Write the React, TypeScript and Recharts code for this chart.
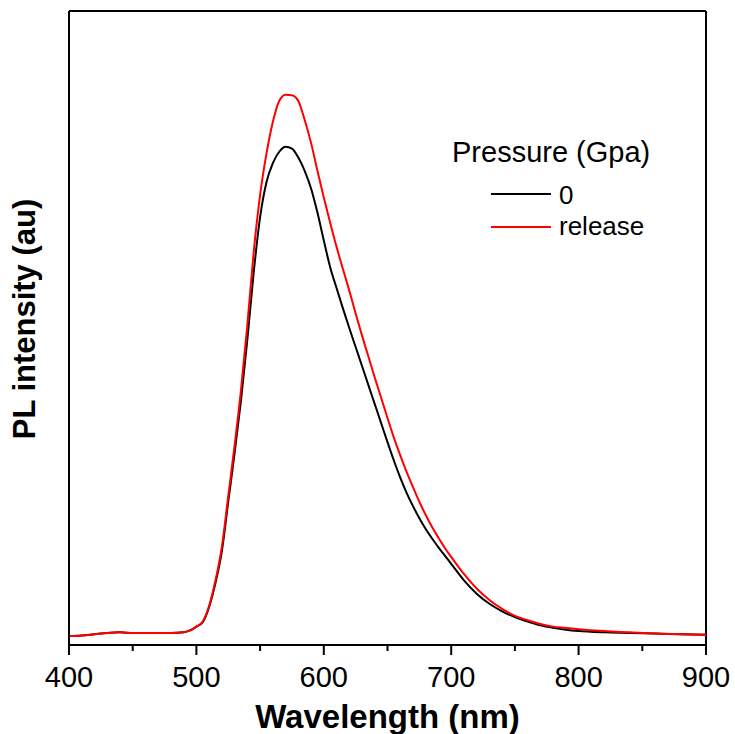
import React from 'react';
import { LineChart, Line, XAxis, YAxis, Legend, ReferenceLine } from 'recharts';

const wavelength = [
  400, 410, 420, 430, 440, 450, 460, 470, 480, 490, 495,
  500, 505, 510, 515, 520, 525, 530, 535, 540, 545, 550, 555, 560, 565, 570, 575,
  580, 585, 590, 595, 600, 605, 610, 615, 620, 625, 630, 635, 640, 645, 650, 655,
  660, 665, 670, 675, 680, 685, 690, 695, 700,
  710, 720, 730, 740, 750, 760, 770, 780, 790, 800, 820, 840, 860, 880, 900,
];

const gpa0 = [
  1.4, 1.5, 1.7, 1.9, 2.0, 1.9, 1.9, 1.9, 1.9, 2.0, 2.3,
  2.9, 3.6, 6.0, 9.8, 14.8, 22.6, 30.3, 38.6, 48.2, 58.8, 67.5, 73.0, 76.0, 77.8, 78.6, 78.3,
  76.9, 74.8, 72.0, 68.2, 63.8, 59.6, 56.3, 53.1, 50.0, 47.0, 44.0, 41.0, 38.0, 35.0, 32.0, 29.1,
  26.4, 24.0, 21.9, 20.0, 18.3, 16.8, 15.4, 14.1, 12.8,
  10.2, 8.1, 6.5, 5.3, 4.4, 3.7, 3.1, 2.7, 2.4, 2.2, 2.0, 1.9, 1.8, 1.7, 1.6,
];

const release = [
  1.4, 1.5, 1.7, 1.9, 2.0, 1.9, 1.9, 1.9, 1.9, 2.0, 2.3,
  2.9, 3.7, 6.2, 10.2, 15.5, 23.5, 31.5, 40.2, 50.5, 62.0, 71.0, 77.5, 82.5, 85.8, 86.8, 86.7,
  85.8, 82.8, 79.2, 74.8, 70.6, 66.6, 62.8, 59.3, 55.9, 52.3, 48.8, 45.5, 42.2, 39.0, 35.8, 32.7,
  29.9, 27.3, 24.9, 22.6, 20.5, 18.6, 16.9, 15.3, 13.9,
  11.2, 8.9, 7.1, 5.7, 4.6, 3.9, 3.3, 2.9, 2.7, 2.5, 2.2, 2.0, 1.8, 1.7, 1.6,
];

const xTicks = [400, 450, 500, 550, 600, 650, 700, 750, 800, 850, 900];

const series = [
  { key: 'gpa0', name: '0', color: '#000000' },
  { key: 'release', name: 'release', color: '#ff0000' },
];

const data = wavelength.map((w, i) => ({ w, gpa0: gpa0[i], release: release[i] }));

const FONT = '"Liberation Sans", Arial, sans-serif';

const XTick = (props: any) => {
  const { x, y, payload } = props;
  const major = payload.value % 100 === 0;
  return (
    <g>
      <line x1={x} x2={x} y1={y} y2={y + (major ? 10 : 6)} stroke="#000" strokeWidth={2} />
      {major && (
        <text x={x} y={y + 42} textAnchor="middle" fontFamily={FONT} fontSize={29} fill="#000">
          {payload.value}
        </text>
      )}
    </g>
  );
};

const XLabel = (props: any) => {
  const { viewBox } = props;
  return (
    <text
      x={viewBox.x + viewBox.width / 2}
      y={viewBox.y + 83}
      textAnchor="middle"
      fontFamily={FONT}
      fontWeight="bold"
      fontSize={33}
      fill="#000"
    >
      Wavelength (nm)
    </text>
  );
};

const YLabel = (props: any) => {
  const { viewBox } = props;
  const cx = 35;
  const cy = viewBox.y + viewBox.height / 2 - 9;
  return (
    <text
      x={cx}
      y={cy}
      transform={`rotate(-90, ${cx}, ${cy})`}
      textAnchor="middle"
      fontFamily={FONT}
      fontWeight="bold"
      fontSize={31}
      fill="#000"
    >
      PL intensity (au)
    </text>
  );
};

const LegendBox = () => (
  <svg width={280} height={130} style={{ display: 'block' }}>
    <text x={12} y={37} fontFamily={FONT} fontSize={29} fill="#000">
      Pressure (Gpa)
    </text>
    {series.map((s, i) => (
      <g key={s.key}>
        <line x1={51} x2={111} y1={69 + i * 33} y2={69 + i * 33} stroke={s.color} strokeWidth={2} />
        <text x={119} y={79 + i * 31} fontFamily={FONT} fontSize={26} fill="#000">
          {s.name}
        </text>
      </g>
    ))}
  </svg>
);

export default function App() {
  return (
    <div style={{ position: 'fixed', left: 0, top: 0, width: 735, height: 734, background: '#fff' }}>
      <LineChart width={735} height={734} data={data} margin={{ top: 11, right: 29, bottom: 0, left: 0 }}>
        <XAxis
          dataKey="w"
          type="number"
          domain={[400, 900]}
          ticks={xTicks}
          interval={0}
          height={89}
          tickSize={0}
          tickMargin={0}
          tickLine={false}
          tick={<XTick />}
          axisLine={{ stroke: '#000', strokeWidth: 2 }}
          label={<XLabel />}
        />
        <YAxis
          type="number"
          domain={[0, 100]}
          width={69}
          tick={false}
          tickLine={false}
          axisLine={{ stroke: '#000', strokeWidth: 2 }}
          label={<YLabel />}
        />
        <ReferenceLine y={100} stroke="#000" strokeWidth={2} />
        <ReferenceLine x={900} stroke="#000" strokeWidth={2} />
        <Legend
          layout="horizontal"
          align="center"
          verticalAlign="middle"
          content={<LegendBox />}
          wrapperStyle={{ position: 'absolute', left: 440, top: 125, width: 280, height: 130 }}
        />
        {series.map((s) => (
          <Line
            key={s.key}
            type="monotone"
            dataKey={s.key}
            name={s.name}
            stroke={s.color}
            strokeWidth={2}
            dot={false}
            activeDot={false}
            isAnimationActive={false}
          />
        ))}
      </LineChart>
    </div>
  );
}
